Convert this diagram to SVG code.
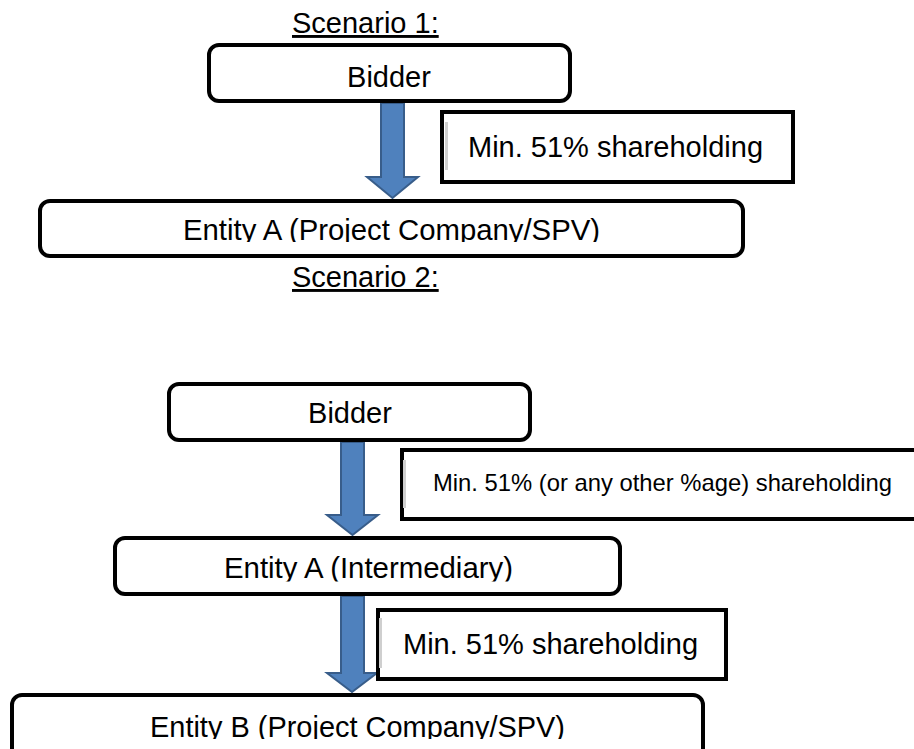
<svg xmlns="http://www.w3.org/2000/svg" width="914" height="749" viewBox="0 0 914 749">
<style>
  .t { font-family: "Liberation Sans", Arial, sans-serif; font-size: 29px; fill: #000; }
  .ts { font-family: "Liberation Sans", Arial, sans-serif; font-size: 23.8px; fill: #000; }
  .rbox { fill: #fff; stroke: #000; stroke-width: 4; }
  .sbox { fill: #fff; stroke: #000; stroke-width: 4; }
  .gl { fill: #cfcfcf; }
  .arrow { fill: #4F81BD; stroke: #385D8A; stroke-width: 2; stroke-linejoin: miter; }
  .title { text-decoration: underline; }
</style>
<defs>
  <clipPath id="clipA1"><rect x="0" y="195" width="914" height="47"/></clipPath>
  <clipPath id="clipA2"><rect x="0" y="530" width="914" height="51.5"/></clipPath>
  <clipPath id="clipB"><rect x="0" y="690" width="914" height="49"/></clipPath>
</defs>
<rect width="914" height="749" fill="#fff"/>

<text class="t title" x="292" y="33">Scenario 1:</text>
<text class="t title" x="292" y="287">Scenario 2:</text>

<g id="connectors">
  <path class="arrow" d="M381,103 H404 V177 H418 L392.5,198 L367,177 H381 Z"/>
  <path class="arrow" d="M341,442 H364 V515 H378 L352.5,535 L327,515 H341 Z"/>
  <path class="arrow" d="M341,596 H364 V673 H377 L352,692 L327,673 H341 Z"/>
</g>

<g id="bidder1">
  <rect class="rbox" x="209" y="45" width="361" height="56" rx="10"/>
  <text class="t" x="389" y="87" text-anchor="middle">Bidder</text>
</g>

<g id="share1">
  <rect class="sbox" x="442" y="112" width="351" height="70"/>
  <rect class="gl" x="445" y="122" width="3" height="48"/>
  <text class="t" x="468" y="157">Min. 51% shareholding</text>
</g>

<g id="entityA1">
  <rect class="rbox" x="40" y="201" width="703" height="55" rx="10"/>
  <text class="t" x="183" y="240" textLength="417" lengthAdjust="spacingAndGlyphs" clip-path="url(#clipA1)">Entity A (Project Company/SPV)</text>
</g>

<g id="bidder2">
  <rect class="rbox" x="169" y="384" width="361" height="56" rx="10"/>
  <text class="t" x="350" y="423" text-anchor="middle">Bidder</text>
</g>

<g id="share2">
  <rect class="sbox" x="402" y="450" width="520" height="69"/>
  <rect class="gl" x="403" y="460" width="3" height="48"/>
  <text class="ts" x="433" y="491">Min. 51% (or any other %age) shareholding</text>
</g>

<g id="entityA2">
  <rect class="rbox" x="115" y="538" width="505" height="56" rx="10"/>
  <text class="t" x="224" y="578" textLength="289" lengthAdjust="spacingAndGlyphs" clip-path="url(#clipA2)">Entity A (Intermediary)</text>
</g>

<g id="share3">
  <rect class="sbox" x="378" y="610" width="348" height="69"/>
  <rect class="gl" x="379" y="618" width="3" height="50"/>
  <text class="t" x="403" y="654">Min. 51% shareholding</text>
</g>

<g id="entityB">
  <rect class="rbox" x="12" y="695" width="691" height="80" rx="10"/>
  <text class="t" x="150" y="737" textLength="415" lengthAdjust="spacingAndGlyphs" clip-path="url(#clipB)">Entity B (Project Company/SPV)</text>
</g>
</svg>
